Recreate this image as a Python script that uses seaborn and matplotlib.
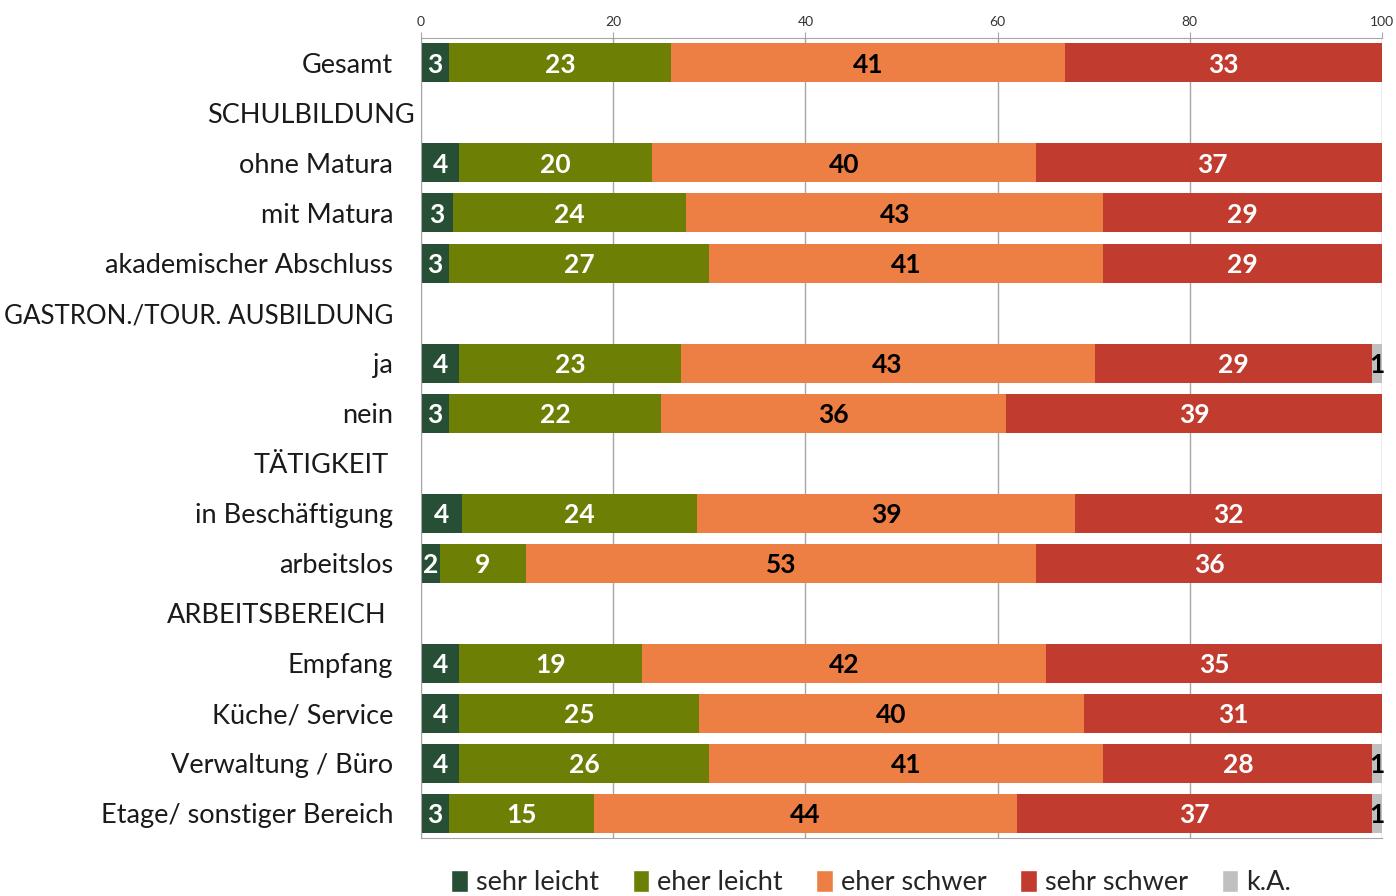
import numpy as np
import pandas as pd
import matplotlib
matplotlib.use("Agg")
import matplotlib.pyplot as plt
from matplotlib.patches import Patch
from matplotlib.transforms import ScaledTranslation
import seaborn as sns

# Zeilen (inkl. Zwischenüberschriften ohne Balken)
rows = ["Gesamt", "SCHULBILDUNG", "ohne Matura", "mit Matura", "akademischer Abschluss",
        "GASTRON./TOUR. AUSBILDUNG", "ja", "nein", "TÄTIGKEIT", "in Beschäftigung",
        "arbeitslos", "ARBEITSBEREICH", "Empfang", "Küche/ Service",
        "Verwaltung / Büro", "Etage/ sonstiger Bereich"]
bar_rows = ["Gesamt", "ohne Matura", "mit Matura", "akademischer Abschluss", "ja", "nein",
            "in Beschäftigung", "arbeitslos", "Empfang", "Küche/ Service",
            "Verwaltung / Büro", "Etage/ sonstiger Bereich"]

series = ["sehr leicht", "eher leicht", "eher schwer", "sehr schwer", "k.A."]
sehr_leicht = [2.9, 4.0, 3.3, 2.9, 4.0, 2.9, 4.3, 2.0, 4.0, 4.0, 4.0, 2.9]
eher_leicht = [23.1, 20.0, 24.3, 27.1, 23.0, 22.1, 24.4, 8.9, 19.0, 24.9, 26.0, 15.1]
eher_schwer = [41.0, 40.0, 43.4, 41.0, 43.1, 35.9, 39.4, 53.1, 42.0, 40.1, 41.0, 44.0]
sehr_schwer = [33.0, 36.6, 29.0, 29.0, 28.9, 39.1, 31.9, 36.0, 35.0, 31.0, 28.0, 37.0]
k_a = [0, 0, 0, 0, 1.0, 0, 0, 0, 0, 0, 1.0, 1.0]

colors = ["#264F36", "#6E7F06", "#EE7F44", "#C13B2E", "#C0C0C0"]
text_colors = ["white", "white", "black", "white", "black"]

x_ticks = [0, 20, 40, 60, 80, 100]

df = pd.DataFrame({"row": bar_rows, "sehr leicht": sehr_leicht, "eher leicht": eher_leicht,
                   "eher schwer": eher_schwer, "sehr schwer": sehr_schwer, "k.A.": k_a})
cum = df[series].cumsum(axis=1)

sns.set_style("white")
plt.rcParams["font.family"] = ["Lato", "DejaVu Sans"]

fig = plt.figure(figsize=(13.96, 8.96), dpi=100)
ax = fig.add_axes([0.3016, 0.0647, 0.6884, 0.8929])

# gestapelte Balken: kumulierte Summen von hinten nach vorne zeichnen
for i in reversed(range(len(series))):
    sns.barplot(x=cum[series[i]], y=df["row"], order=rows, color=colors[i],
                width=0.78, orient="h", ax=ax, saturation=1, edgecolor="none")

# Wertebeschriftungen
pos = {r: k for k, r in enumerate(rows)}
for i, s in enumerate(series):
    for j, r in enumerate(bar_rows):
        v = df[s].iloc[j]
        if v <= 0:
            continue
        left = cum[s].iloc[j] - v
        xc = min(left + v / 2, 99.6) if s == "k.A." else left + v / 2
        ax.text(xc, pos[r] + 0.04, f"{v:.0f}", ha="center", va="center",
                color=text_colors[i], fontsize=19, fontweight="bold")

ax.set_xlim(0, 100)
ax.set_ylim(len(rows) - 0.5, -0.5)
ax.set_xlabel("")
ax.set_ylabel("")
ax.xaxis.tick_top()
ax.set_xticks(x_ticks)
ax.tick_params(axis="x", labelsize=10, colors="#333333", length=4, color="#A6A6A6", pad=3)
ax.set_yticks(range(len(rows)))
ax.set_yticklabels(rows, fontsize=19.5, color="#1A1A1A")
ax.tick_params(axis="y", which="major", length=0, pad=20)
ax.set_yticks(np.arange(-0.5, len(rows), 1), minor=True)
ax.tick_params(axis="y", which="minor", length=6, color="#A6A6A6")

# Überschriften sind im Original leicht versetzt
shift_px = {"SCHULBILDUNG": 21, "TÄTIGKEIT": -5, "ARBEITSBEREICH": -7}
for lab in ax.get_yticklabels():
    t = lab.get_text()
    if t == "GASTRON./TOUR. AUSBILDUNG":
        lab.set_fontsize(18.6)
    dx = shift_px.get(t, 0)
    if dx:
        lab.set_transform(lab.get_transform() + ScaledTranslation(dx / 100, 0, fig.dpi_scale_trans))

ax.grid(axis="x", color="#A6A6A6", linewidth=1)
ax.set_axisbelow(True)
for sp in ["top", "left", "bottom"]:
    ax.spines[sp].set_color("#A6A6A6")
    ax.spines[sp].set_visible(True)
ax.spines["right"].set_visible(False)

handles = [Patch(facecolor=c, label=s) for c, s in zip(colors, series)]
fig.legend(handles=handles, loc="center", bbox_to_anchor=(0.624, 0.015), ncol=5,
           frameon=False, fontsize=19.5, handlelength=0.6, handleheight=0.9,
           handletextpad=0.3, columnspacing=1.25)

fig.savefig("out.png", dpi=100)
